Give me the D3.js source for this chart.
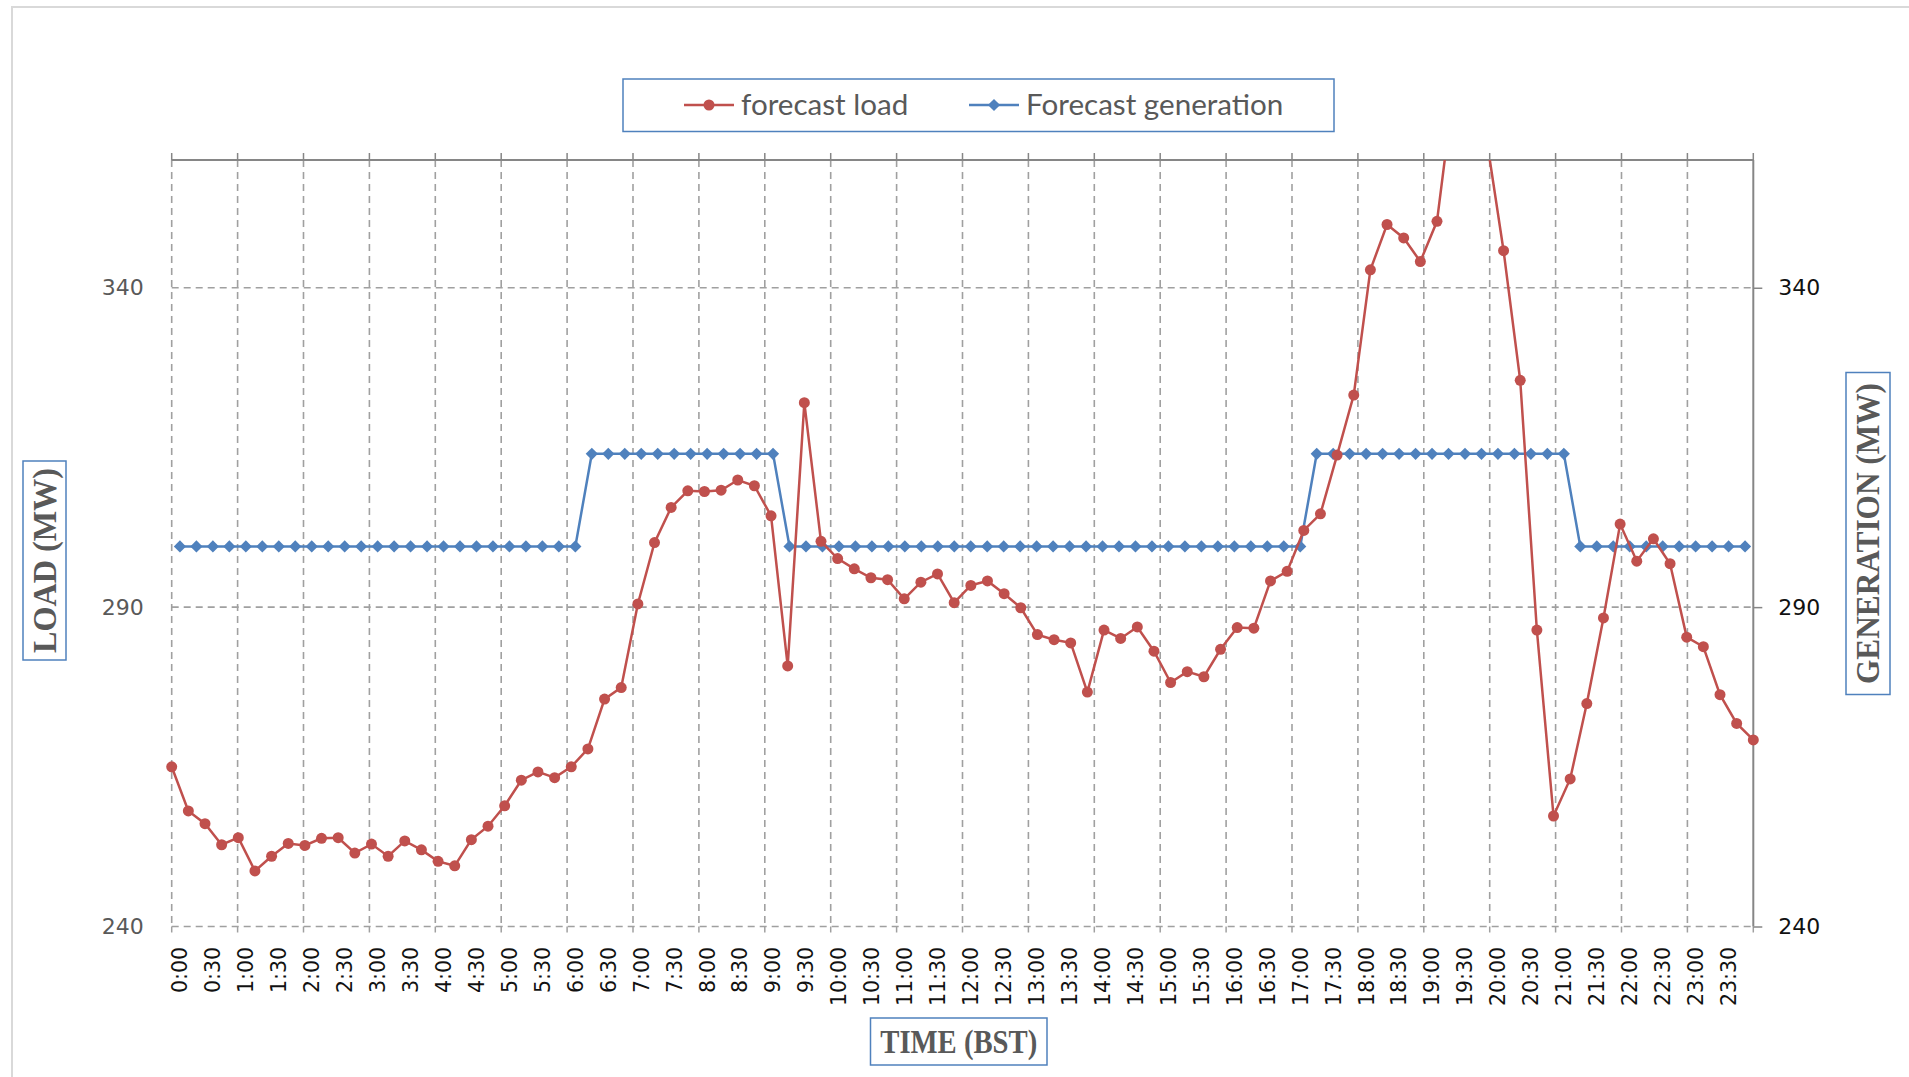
<!DOCTYPE html>
<html>
<head>
<meta charset="utf-8">
<script src="https://cdn.jsdelivr.net/npm/d3@7/dist/d3.min.js"></script>
<style>
  body { margin: 0; background: #fff; }
  svg { display: block; }
</style>
</head>
<body>
<div id="chart"></div>
<script>
// quarter-hour categories, 0:00 .. 23:45
const timeLabels = [
  '0:00', '0:15', '0:30', '0:45', '1:00', '1:15', '1:30', '1:45',
  '2:00', '2:15', '2:30', '2:45', '3:00', '3:15', '3:30', '3:45',
  '4:00', '4:15', '4:30', '4:45', '5:00', '5:15', '5:30', '5:45',
  '6:00', '6:15', '6:30', '6:45', '7:00', '7:15', '7:30', '7:45',
  '8:00', '8:15', '8:30', '8:45', '9:00', '9:15', '9:30', '9:45',
  '10:00', '10:15', '10:30', '10:45', '11:00', '11:15', '11:30', '11:45',
  '12:00', '12:15', '12:30', '12:45', '13:00', '13:15', '13:30', '13:45',
  '14:00', '14:15', '14:30', '14:45', '15:00', '15:15', '15:30', '15:45',
  '16:00', '16:15', '16:30', '16:45', '17:00', '17:15', '17:30', '17:45',
  '18:00', '18:15', '18:30', '18:45', '19:00', '19:15', '19:30', '19:45',
  '20:00', '20:15', '20:30', '20:45', '21:00', '21:15', '21:30', '21:45',
  '22:00', '22:15', '22:30', '22:45', '23:00', '23:15', '23:30', '23:45',
];

// forecast load (MW), one value per quarter hour
const loadValues = [
  265.0, 258.1, 256.1, 252.8,
  253.9, 248.7, 251.0, 253.0,
  252.7, 253.8, 253.9, 251.5,
  252.9, 251.0, 253.4, 252.0,
  250.2, 249.5, 253.6, 255.7,
  258.9, 262.9, 264.2, 263.3,
  265.0, 267.8, 275.6, 277.4,
  290.5, 300.1, 305.6, 308.2,
  308.1, 308.3, 309.9, 309.0,
  304.3, 280.8, 322.0, 300.3,
  297.6, 296.0, 294.6, 294.3,
  291.3, 293.9, 295.2, 290.7,
  293.4, 294.1, 292.1, 289.9,
  285.7, 284.9, 284.4, 276.7,
  286.4, 285.1, 286.9, 283.1,
  278.2, 279.9, 279.1, 283.4,
  286.8, 286.7, 294.1, 295.6,
  302.0, 304.6, 313.8, 323.2,
  342.8, 349.9, 347.8, 344.1,
  350.4, 371.0, 375.0, 363.0,
  345.8, 325.5, 286.4, 257.3,
  263.1, 274.9, 288.3, 303.0,
  297.2, 300.7, 296.8, 285.3,
  283.8, 276.3, 271.8, 269.2,
];

// forecast generation (MW), one value per quarter hour
const genValues = [
  299.5, 299.5, 299.5, 299.5,
  299.5, 299.5, 299.5, 299.5,
  299.5, 299.5, 299.5, 299.5,
  299.5, 299.5, 299.5, 299.5,
  299.5, 299.5, 299.5, 299.5,
  299.5, 299.5, 299.5, 299.5,
  299.5, 314, 314, 314,
  314, 314, 314, 314,
  314, 314, 314, 314,
  314, 299.5, 299.5, 299.5,
  299.5, 299.5, 299.5, 299.5,
  299.5, 299.5, 299.5, 299.5,
  299.5, 299.5, 299.5, 299.5,
  299.5, 299.5, 299.5, 299.5,
  299.5, 299.5, 299.5, 299.5,
  299.5, 299.5, 299.5, 299.5,
  299.5, 299.5, 299.5, 299.5,
  299.5, 314, 314, 314,
  314, 314, 314, 314,
  314, 314, 314, 314,
  314, 314, 314, 314,
  314, 299.5, 299.5, 299.5,
  299.5, 299.5, 299.5, 299.5,
  299.5, 299.5, 299.5, 299.5,
];

const yTicks = [240, 290, 340];
const yDomain = [240, 360];

const W = 1909;
const H = 1077;
const plot = { left: 171.7, right: 1753.3, top: 160, bottom: 926.5 };
const RED = '#c0504d';
const BLUE = '#4f81bd';
const GRID = '#a0a0a0';

const svg = d3.select('#chart')
    .append('svg')
    .attr('width', W)
    .attr('height', H);

// outer chart frame (only top/left edges are visible in the picture)
svg.append('path')
    .attr('d', 'M12,1077V7H1909')
    .attr('fill', 'none')
    .attr('stroke', '#d9d9d9')
    .attr('stroke-width', 2);

// category axis for generation + labels (between tick marks)
const xBand = d3.scaleBand()
    .domain(timeLabels)
    .range([plot.left, plot.right])
    .padding(0);
// load is plotted on tick marks across the same width
const xLoad = d3.scaleLinear()
    .domain([0, loadValues.length - 1])
    .range([plot.left, plot.right]);
const y = d3.scaleLinear().domain(yDomain).range([plot.bottom, plot.top]);

const hourStarts = timeLabels.filter((d, i) => i % 4 === 0);
const gridX = hourStarts.map((d) => xBand(d)).concat([plot.right]);

// vertical dashed gridlines each hour
svg.append('g')
    .selectAll('line')
    .data(gridX.slice(0, -1))
    .join('line')
    .attr('x1', (d) => d)
    .attr('x2', (d) => d)
    .attr('y1', plot.top)
    .attr('y2', plot.bottom)
    .attr('stroke', GRID)
    .attr('stroke-width', 1.6)
    .attr('stroke-dasharray', '7,5');

// horizontal dashed gridlines
svg.append('g')
    .selectAll('line')
    .data(yTicks)
    .join('line')
    .attr('x1', plot.left)
    .attr('x2', plot.right)
    .attr('y1', (d) => y(d))
    .attr('y2', (d) => y(d))
    .attr('stroke', GRID)
    .attr('stroke-width', 1.6)
    .attr('stroke-dasharray', '7,5');

// top axis line with hour ticks pointing up
svg.append('line')
    .attr('x1', plot.left)
    .attr('x2', plot.right)
    .attr('y1', plot.top)
    .attr('y2', plot.top)
    .attr('stroke', '#868686')
    .attr('stroke-width', 2);
svg.append('g')
    .selectAll('line')
    .data(gridX)
    .join('line')
    .attr('x1', (d) => d)
    .attr('x2', (d) => d)
    .attr('y1', plot.top - 7)
    .attr('y2', plot.top)
    .attr('stroke', '#868686')
    .attr('stroke-width', 1.5);

// bottom hour ticks pointing down
svg.append('g')
    .selectAll('line')
    .data(gridX)
    .join('line')
    .attr('x1', (d) => d)
    .attr('x2', (d) => d)
    .attr('y1', plot.bottom)
    .attr('y2', plot.bottom + 6)
    .attr('stroke', GRID)
    .attr('stroke-width', 1.5);

// right (secondary) value axis
const rightAxis = svg.append('g')
    .attr('transform', `translate(${plot.right},0)`)
    .call(d3.axisRight(y).tickValues(yTicks).tickSize(9).tickPadding(16));
rightAxis.select('.domain')
    .attr('d', `M0,${plot.top}V${plot.bottom}`)
    .attr('stroke', '#868686')
    .attr('stroke-width', 2);
rightAxis.selectAll('.tick line').attr('stroke', '#868686').attr('stroke-width', 1.5);
rightAxis.selectAll('.tick text')
    .attr('font-family', 'DejaVu Sans')
    .attr('font-size', 22)
    .attr('fill', '#111');

// left (primary) value axis labels
const leftAxis = svg.append('g')
    .attr('transform', `translate(${plot.left},0)`)
    .call(d3.axisLeft(y).tickValues(yTicks).tickSize(0).tickPadding(28));
leftAxis.select('.domain').remove();
leftAxis.selectAll('.tick text')
    .attr('font-family', 'DejaVu Sans')
    .attr('font-size', 22)
    .attr('fill', '#595959');

// x labels, every half hour, rotated
const labelIdx = timeLabels.filter((d, i) => i % 2 === 0);
svg.append('g')
    .selectAll('text')
    .data(labelIdx)
    .join('text')
    .attr('transform', (d) =>
        `translate(${xBand(d) + xBand.bandwidth() / 2},947) rotate(-90)`)
    .attr('text-anchor', 'end')
    .attr('dy', '0.36em')
    .attr('font-family', 'DejaVu Sans')
    .attr('font-size', 20.5)
    .attr('fill', '#111')
    .text((d) => d);

// clip series to plot area
svg.append('clipPath')
    .attr('id', 'plotClip')
    .append('rect')
    .attr('x', plot.left - 10)
    .attr('y', plot.top)
    .attr('width', plot.right - plot.left + 20)
    .attr('height', plot.bottom - plot.top + 10);

const series = svg.append('g').attr('clip-path', 'url(#plotClip)');

// generation series
const genLine = d3.line()
    .x((d, i) => xBand(timeLabels[i]) + xBand.bandwidth() / 2)
    .y((d) => y(d));
series.append('path')
    .datum(genValues)
    .attr('d', genLine)
    .attr('fill', 'none')
    .attr('stroke', BLUE)
    .attr('stroke-width', 2.5);
const diamond = d3.symbol().type(d3.symbolDiamond2).size(95);
series.append('g')
    .selectAll('path')
    .data(genValues)
    .join('path')
    .attr('transform', (d, i) =>
        `translate(${xBand(timeLabels[i]) + xBand.bandwidth() / 2},${y(d)})`)
    .attr('d', diamond)
    .attr('fill', BLUE);

// load series
const loadLine = d3.line()
    .x((d, i) => xLoad(i))
    .y((d) => y(d));
series.append('path')
    .datum(loadValues)
    .attr('d', loadLine)
    .attr('fill', 'none')
    .attr('stroke', RED)
    .attr('stroke-width', 2.5);
series.append('g')
    .selectAll('circle')
    .data(loadValues)
    .join('circle')
    .attr('cx', (d, i) => xLoad(i))
    .attr('cy', (d) => y(d))
    .attr('r', 5.5)
    .attr('fill', RED);

// legend
const legend = svg.append('g');
legend.append('rect')
    .attr('x', 623)
    .attr('y', 79)
    .attr('width', 711)
    .attr('height', 52.5)
    .attr('fill', '#fff')
    .attr('stroke', BLUE)
    .attr('stroke-width', 1.5);
const legendItems = [
    { name: 'forecast load', color: RED, x0: 684, x1: 734, tx: 741, marker: 'circle' },
    { name: 'Forecast generation', color: BLUE, x0: 969, x1: 1019, tx: 1026, marker: 'diamond' },
];
legendItems.forEach((item) => {
    const g = legend.append('g');
    g.append('line')
        .attr('x1', item.x0)
        .attr('x2', item.x1)
        .attr('y1', 105)
        .attr('y2', 105)
        .attr('stroke', item.color)
        .attr('stroke-width', 2.5);
    if (item.marker === 'circle') {
        g.append('circle')
            .attr('cx', (item.x0 + item.x1) / 2)
            .attr('cy', 105)
            .attr('r', 5.5)
            .attr('fill', item.color);
    } else {
        g.append('path')
            .attr('transform', `translate(${(item.x0 + item.x1) / 2},105)`)
            .attr('d', diamond)
            .attr('fill', item.color);
    }
    g.append('text')
        .attr('x', item.tx)
        .attr('y', 105)
        .attr('dy', '0.35em')
        .attr('font-family', 'Lato, "Open Sans", sans-serif')
        .attr('font-size', 29.6)
        .attr('fill', '#595959')
        .text(item.name);
});

// boxed axis titles
function boxedTitle(box, label, len, rotate) {
    const g = svg.append('g');
    g.append('rect')
        .attr('x', box.x)
        .attr('y', box.y)
        .attr('width', box.w)
        .attr('height', box.h)
        .attr('fill', '#fff')
        .attr('stroke', BLUE)
        .attr('stroke-width', 1.5);
    const cx = box.x + box.w / 2;
    const cy = box.y + box.h / 2;
    g.append('text')
        .attr('transform', `translate(${cx},${cy})` + (rotate ? ' rotate(-90)' : ''))
        .attr('text-anchor', 'middle')
        .attr('dy', '0.34em')
        .attr('font-family', '"Liberation Serif", "DejaVu Serif", serif')
        .attr('font-weight', 'bold')
        .attr('font-size', 33)
        .attr('fill', '#595959')
        .attr('textLength', len)
        .attr('lengthAdjust', 'spacingAndGlyphs')
        .text(label);
}
boxedTitle({ x: 23, y: 461, w: 43, h: 199 }, 'LOAD (MW)', 185, true);
boxedTitle({ x: 1846, y: 372.5, w: 44, h: 322 }, 'GENERATION (MW)', 301, true);
boxedTitle({ x: 870.5, y: 1018, w: 176.5, h: 47 }, 'TIME (BST)', 157, false);
</script>
</body>
</html>
